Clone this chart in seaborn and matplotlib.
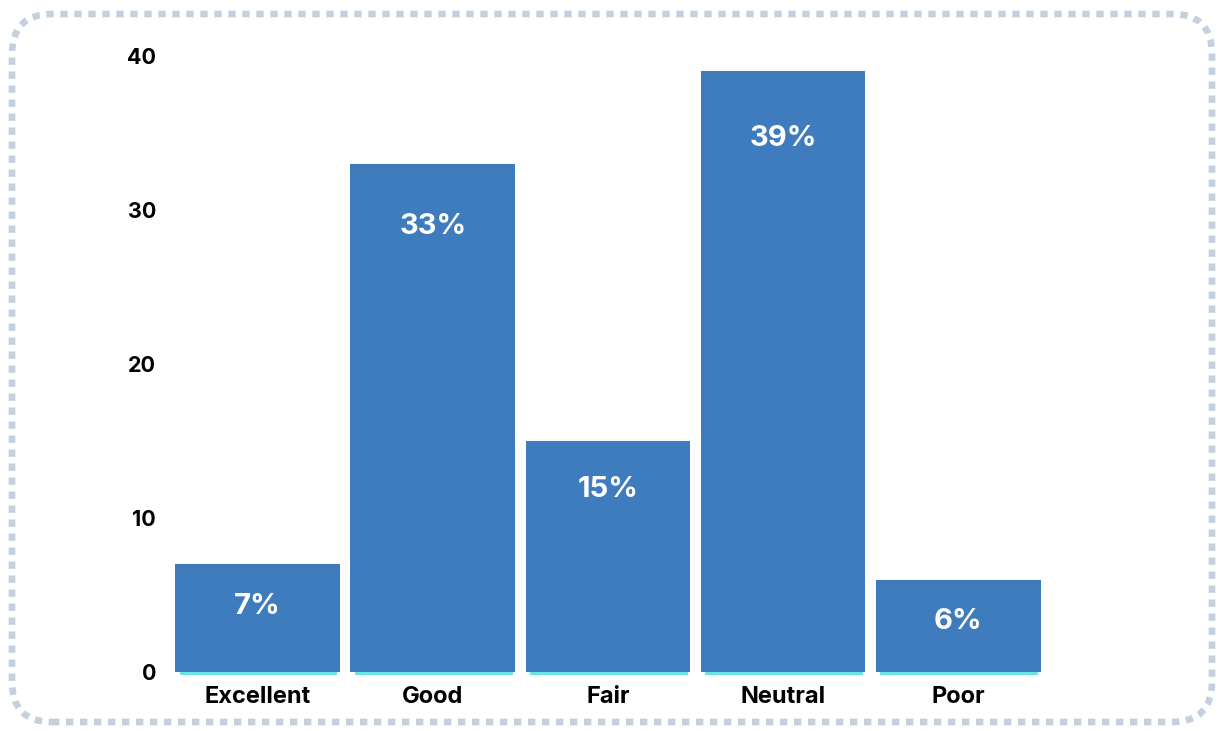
import matplotlib
matplotlib.use("Agg")
import matplotlib.pyplot as plt
import seaborn as sns
from matplotlib.patches import FancyBboxPatch
from matplotlib.transforms import ScaledTranslation, IdentityTransform

# Survey ratings
categories = ["Excellent", "Good", "Fair", "Neutral", "Poor"]
values = [7, 33, 15, 39, 6]
yticks = [0, 10, 20, 30, 40]

BLUE = "#3f7cbe"
CYAN = "#6ce4e6"
FONT = ["Inter", "DejaVu Sans"]

sns.set_theme(style="white")
plt.rcParams["font.family"] = FONT

fig = plt.figure(figsize=(12.2, 7.31), dpi=100)
ax = fig.add_axes([0.1393, 0.0807, 0.718, 0.8427])

# Turquoise underlay bars, nudged slightly downward
sns.barplot(x=categories, y=values, color=CYAN, width=0.9, saturation=1,
            linewidth=0, ax=ax, zorder=1)
under = list(ax.patches)
shift = ScaledTranslation(0.01, -0.03, fig.dpi_scale_trans)
for p in under:
    p.set_transform(ax.transData + shift)
    p.set_clip_on(False)

# Main bars
sns.barplot(x=categories, y=values, color=BLUE, width=0.94, saturation=1,
            linewidth=0, ax=ax, zorder=2)

for i, v in enumerate(values):
    ax.text(i, 0.95 * v - 2.4, f"{v}%", ha="center", va="center",
            color="white", fontsize=21, fontweight="bold", zorder=3)

ax.set_ylim(0, 40)
ax.set_xlim(-0.5, len(categories) - 0.5)
ax.set_yticks(yticks)
ax.set_yticklabels([str(t) for t in yticks])
ax.tick_params(axis="both", length=0, colors="black")
ax.tick_params(axis="y", pad=10, labelsize=15.5)
ax.tick_params(axis="x", pad=10, labelsize=17)
for lab in ax.get_xticklabels() + ax.get_yticklabels():
    lab.set_fontweight("bold")
ax.set_xlabel("")
ax.set_ylabel("")
sns.despine(ax=ax, left=True, bottom=True)
ax.grid(False)

# Dotted rounded frame around the chart
frame = FancyBboxPatch((12, 9), 1200, 708,
                       boxstyle="round,pad=0,rounding_size=40",
                       transform=IdentityTransform(), fill=False,
                       edgecolor="#c5d0de", linewidth=4.8,
                       linestyle=(0, (1.1, 1.0)), capstyle="butt")
fig.add_artist(frame)

fig.savefig("out.png", dpi=100, facecolor="white")
